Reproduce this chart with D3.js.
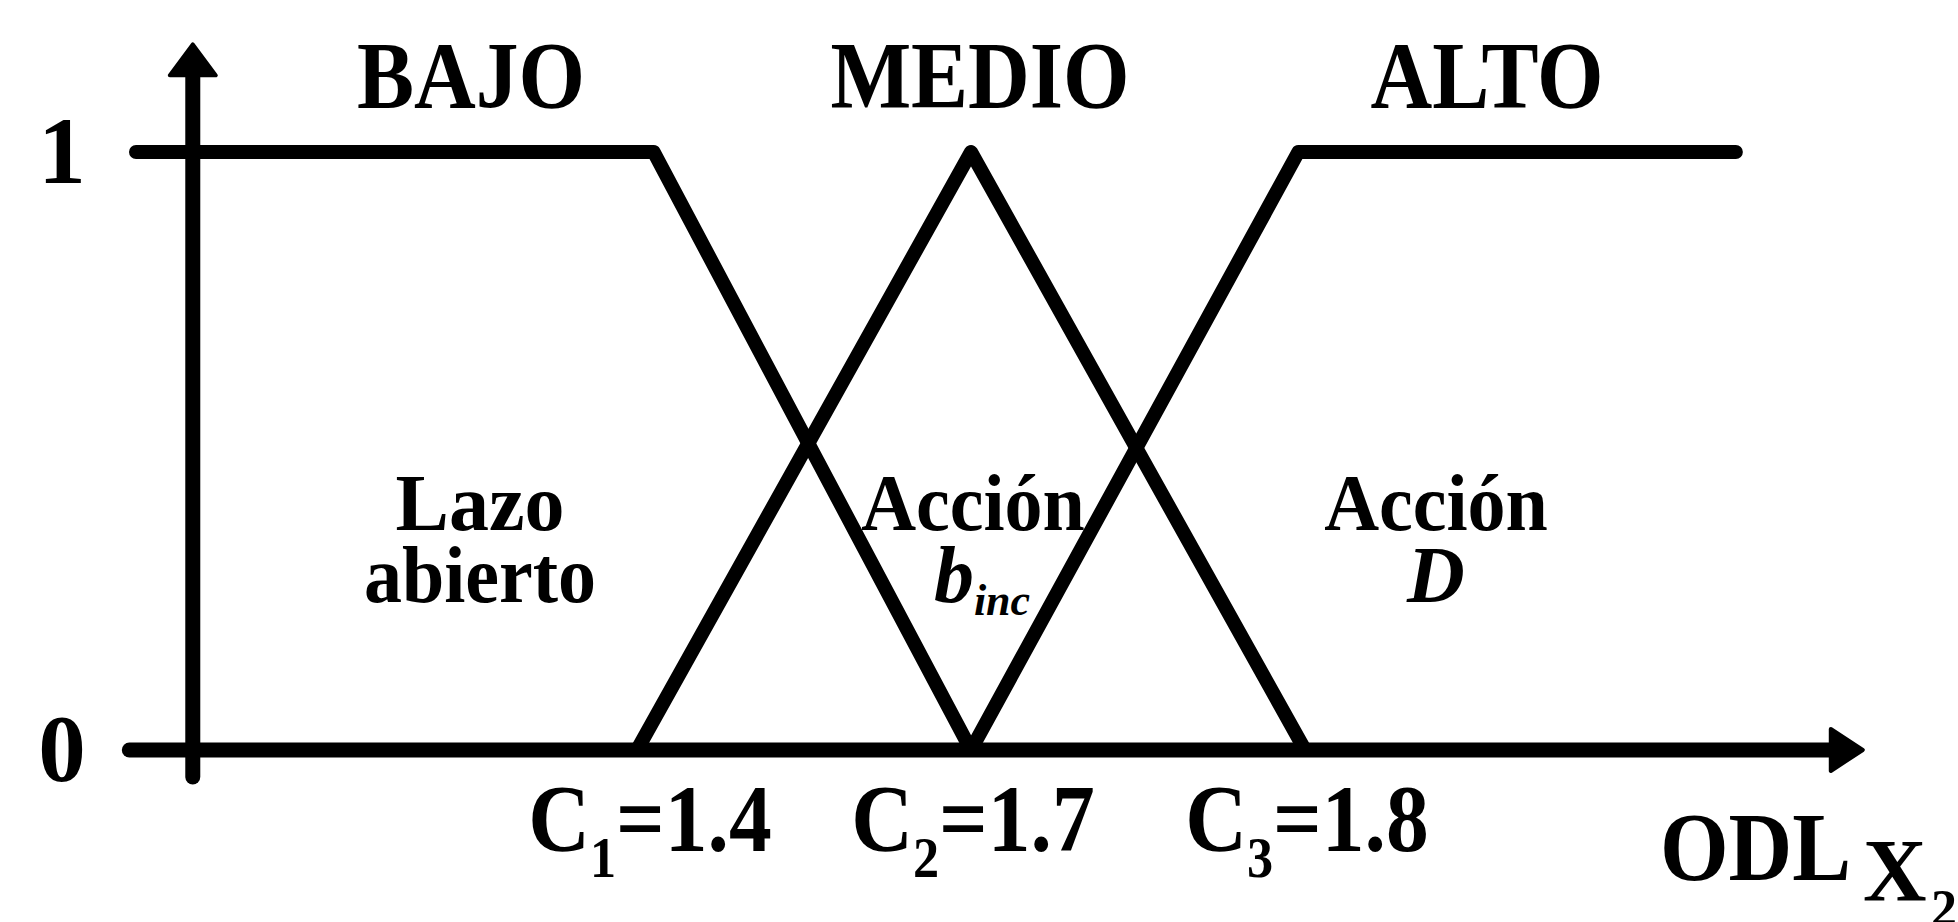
<!DOCTYPE html>
<html lang="es">
<head>
  <meta charset="UTF-8">
  <title>Funciones de pertenencia ODL</title>
  <script src="https://d3js.org/d3.v7.min.js"></script>
  <style>
    body { margin: 0; background: #fff; }
    svg text {
      font-family: "Liberation Serif", "Times New Roman", serif;
      font-weight: bold;
      fill: #000;
    }
  </style>
</head>
<body>
  <div id="chart"></div>
  <script>
    // conjuntos difusos (eje x en unidades del esquema: C1=1, C2=2, C3=3)
    const setNames = ["BAJO", "MEDIO", "ALTO"];
    const bajoPts = [[-0.5, 1], [1.05, 1], [2, 0]];
    const medioPts = [[1, 0], [2, 1], [3, 0]];
    const altoPts = [[2, 0], [2.98, 1], [4.29, 1]];

    // centros C1..C3 y sus valores
    const cPos = [1, 2, 3];
    const cSub = ["1", "2", "3"];
    const cValues = ["1.4", "1.7", "1.8"];

    // etiquetas del eje y
    const yTicks = [0, 1];

    const W = 1958, H = 922;
    const fontSize = 95;
    const innerSize = 80;
    const squeeze = 0.9;  // la fuente original es algo mas estrecha

    const svg = d3.select("#chart").append("svg")
      .attr("width", W)
      .attr("height", H);

    const x = d3.scaleLinear().domain([1, 3]).range([637, 1305]);
    const y = d3.scaleLinear().domain([0, 1]).range([750, 152]);

    const uAxis = -0.33;           // donde cruza el eje vertical
    const xAxisEnds = [-0.52, 4.67];
    const yAxisEnds = [-0.045, 1.18];

    function condense(sel, k) {
      sel.each(function () {
        const w = this.getComputedTextLength();
        d3.select(this).attr("textLength", w * k).attr("lengthAdjust", "spacingAndGlyphs");
      });
    }

    // ejes
    const ax = svg.append("g").attr("stroke", "#000").attr("stroke-width", 15)
      .attr("stroke-linecap", "round").attr("fill", "none");

    ax.append("line")
      .attr("x1", x(xAxisEnds[0])).attr("x2", x(xAxisEnds[1]) - 25)
      .attr("y1", y(0)).attr("y2", y(0));
    ax.append("line")
      .attr("x1", x(uAxis)).attr("x2", x(uAxis))
      .attr("y1", y(yAxisEnds[0])).attr("y2", y(yAxisEnds[1]) + 25);

    // puntas de flecha
    const tipX = x(xAxisEnds[1]), tipY = y(yAxisEnds[1]);
    svg.append("path")
      .attr("d", `M${tipX - 32},${y(0) - 21} L${tipX},${y(0)} L${tipX - 32},${y(0) + 21} Z`)
      .attr("fill", "#000").attr("stroke", "#000").attr("stroke-width", 4).attr("stroke-linejoin", "round");
    svg.append("path")
      .attr("d", `M${x(uAxis) - 23},${tipY + 31} L${x(uAxis)},${tipY} L${x(uAxis) + 23},${tipY + 31} Z`)
      .attr("fill", "#000").attr("stroke", "#000").attr("stroke-width", 4).attr("stroke-linejoin", "round");

    // funciones de pertenencia
    const line = d3.line().x(d => x(d[0])).y(d => y(d[1]));
    svg.selectAll("path.mf")
      .data([bajoPts, medioPts, altoPts])
      .enter().append("path")
      .attr("class", "mf")
      .attr("d", line)
      .attr("fill", "none")
      .attr("stroke", "#000")
      .attr("stroke-width", 14)
      .attr("stroke-linejoin", "round")
      .attr("stroke-linecap", "round");

    // eje y: 0 y 1
    const yAxis = svg.append("g")
      .attr("transform", `translate(${x(uAxis)},0)`)
      .call(d3.axisLeft(y).tickValues(yTicks).tickSize(0).tickPadding(107).tickFormat(d3.format("d")));
    yAxis.select(".domain").remove();
    yAxis.selectAll("text").attr("font-size", fontSize).attr("dy", "0.32em");

    // nombres de los conjuntos
    const setLabelX = [471, 980, 1487];
    svg.selectAll("text.setname")
      .data(setNames)
      .enter().append("text")
      .attr("class", "setname")
      .attr("x", (d, i) => setLabelX[i])
      .attr("y", 108)
      .attr("text-anchor", "middle")
      .attr("font-size", fontSize)
      .text(d => d)
      .call(condense, squeeze);

    // C1=1.4 etc.
    const cLab = svg.selectAll("text.clab")
      .data(cPos)
      .enter().append("text")
      .attr("class", "clab")
      .attr("x", (d, i) => x(d) + (i === 0 ? 13 : 2))
      .attr("y", 851)
      .attr("text-anchor", "middle")
      .attr("font-size", fontSize);
    cLab.append("tspan").text("C");
    cLab.append("tspan").attr("font-size", 58).attr("dy", 26).text((d, i) => cSub[i]);
    cLab.append("tspan").attr("dy", -26).text((d, i) => "=" + cValues[i]);
    cLab.call(condense, squeeze);

    // rotulo del eje x
    const xl = svg.append("text")
      .attr("x", 1660).attr("y", 880)
      .attr("font-size", 98);
    xl.append("tspan").text("ODL").call(condense, 0.9);
    xl.append("tspan").attr("x", 1863).attr("font-size", 88).attr("dy", 20).text("X");
    xl.append("tspan").attr("x", 1931).attr("font-size", 52).attr("dy", 26).text("2");

    // textos de las regiones
    const lineA = 530, lineB = 602;
    const r1 = svg.append("g").attr("font-size", innerSize);
    r1.append("text").attr("x", 480).attr("y", lineA).attr("text-anchor", "middle").text("Lazo");
    r1.append("text").attr("x", 480).attr("y", lineB).attr("text-anchor", "middle").text("abierto").call(condense, 0.95);

    r1.append("text").attr("x", 973).attr("y", lineA).attr("text-anchor", "middle").text("Acción").call(condense, 0.95);
    const binc = r1.append("text").attr("x", 982).attr("y", lineB).attr("text-anchor", "middle")
      .attr("font-style", "italic");
    binc.append("tspan").text("b");
    binc.append("tspan").attr("font-size", 44).attr("dy", 13).text("inc");

    r1.append("text").attr("x", 1436).attr("y", lineA).attr("text-anchor", "middle").text("Acción").call(condense, 0.95);
    r1.append("text").attr("x", 1436).attr("y", lineB).attr("text-anchor", "middle")
      .attr("font-style", "italic").text("D");
  </script>
</body>
</html>
